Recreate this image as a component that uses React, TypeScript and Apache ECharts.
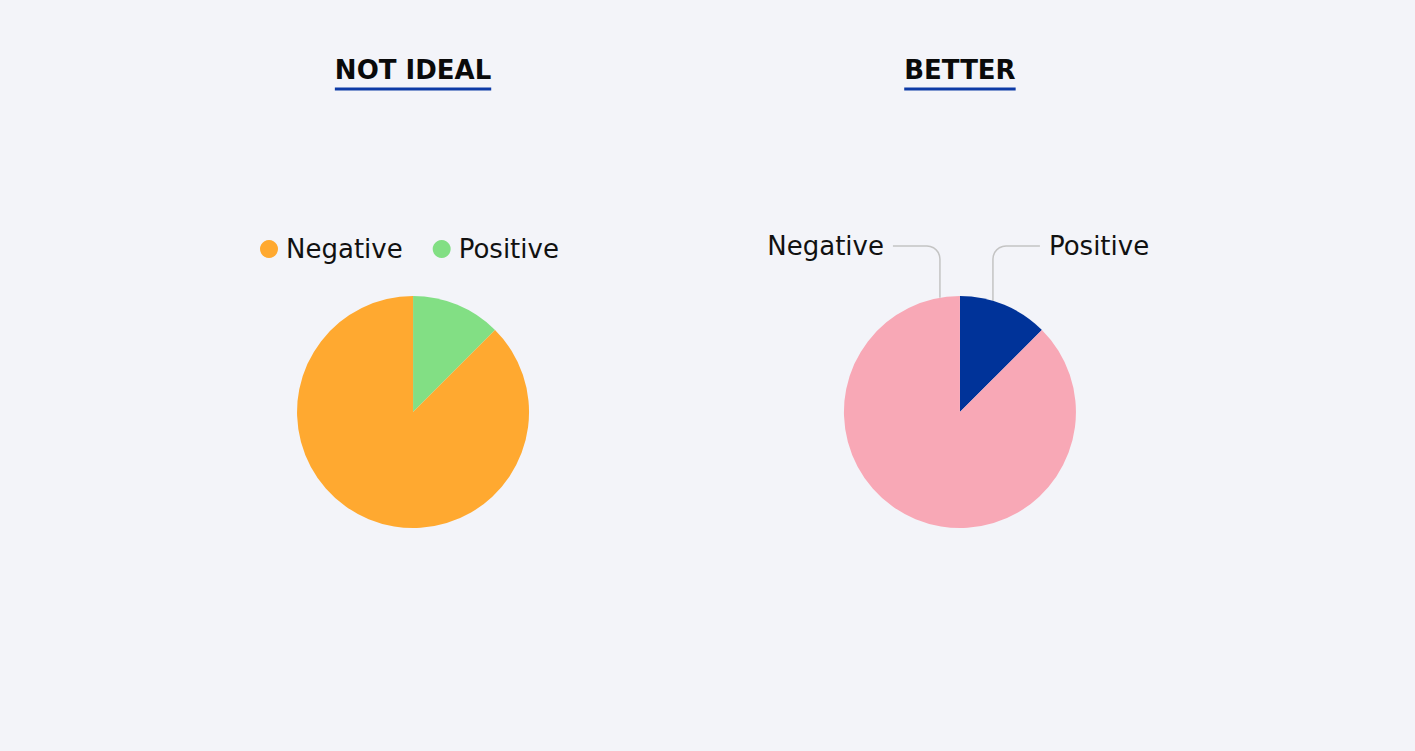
import { useEffect, useRef } from "react";
import * as echarts from "echarts";

const categories = ["Positive", "Negative"];
const notIdealValues = [12.5, 87.5];
const betterValues = [12.5, 87.5];
const legendOrder = ["Negative", "Positive"];
const chartTitles = ["NOT IDEAL", "BETTER"];
const notIdealColors = ["#82DF84", "#FFA930"];
const betterColors = ["#003399", "#F8A8B6"];

export default function App() {
  const ref = useRef<HTMLDivElement>(null);
  useEffect(() => {
    document.body.style.margin = "0";
    const el = ref.current!;
    const chart = echarts.init(el, null, { renderer: "svg" });
    const W = chart.getWidth();
    const H = chart.getHeight();
    const font = "DejaVu Sans";
    const centers = [
      [0.2919, 0.5486],
      [0.6784, 0.5486],
    ];
    const R = 116;
    const ctx = document.createElement("canvas").getContext("2d")!;
    const measure = (t: string, size: number, weight: string) => {
      ctx.font = `${weight} ${size}px "${font}"`;
      return ctx.measureText(t).width;
    };

    const graphics: any[] = [];
    chartTitles.forEach((t, i) => {
      const cx = W * centers[i][0];
      const w = measure(t, 26, "bold");
      graphics.push({
        type: "text",
        x: cx,
        y: 70,
        style: {
          text: t,
          fontSize: 26,
          fontWeight: "bold",
          fontFamily: font,
          fill: "#0a0a0a",
          align: "center",
          verticalAlign: "middle",
        },
      });
      graphics.push({
        type: "rect",
        shape: { x: cx - w / 2, y: 87.5, width: w, height: 3 },
        style: { fill: "#0D3AA6" },
      });
    });

    const arc = (x0: number, y0: number, rr: number, dir: number) => {
      const pts: number[][] = [];
      for (let k = 0; k <= 6; k++) {
        const phi = (Math.PI / 2) * (k / 6);
        pts.push([x0 + dir * rr * Math.sin(phi), y0 - rr * Math.cos(phi)]);
      }
      return pts;
    };

    const option: any = {
      animation: false,
      backgroundColor: "#F3F4F9",
      graphic: graphics,
      legend: {
        data: legendOrder,
        left: 255,
        top: 229,
        icon: "circle",
        itemWidth: 18,
        itemHeight: 18,
        itemGap: 30,
        selectedMode: false,
        textStyle: {
          fontSize: 26,
          fontFamily: font,
          color: "#111",
          lineHeight: 30,
          padding: [0, 0, 0, 3],
        },
      },
      series: [
        {
          type: "pie",
          center: [`${centers[0][0] * 100}%`, `${centers[0][1] * 100}%`],
          radius: R,
          startAngle: 90,
          clockwise: true,
          label: { show: false },
          labelLine: { show: false },
          emphasis: { disabled: true },
          data: categories.map((c, i) => ({
            name: c,
            value: notIdealValues[i],
            itemStyle: { color: notIdealColors[i] },
          })),
        },
        {
          type: "pie",
          center: [`${centers[1][0] * 100}%`, `${centers[1][1] * 100}%`],
          radius: R,
          startAngle: 90,
          clockwise: true,
          emphasis: { disabled: true },
          label: {
            show: true,
            position: "outside",
            formatter: "{b}",
            fontSize: 26,
            fontFamily: font,
            color: "#111",
          },
          labelLine: {
            show: true,
            smooth: false,
            lineStyle: { color: "#C4C4C4", width: 1.5 },
          },
          labelLayout: (p: any) => {
            const cx = W * centers[1][0];
            const cy = H * centers[1][1];
            const ly = cy - 166;
            const rr = 13;
            if (p.dataIndex === 0) {
              const vx = cx + 33;
              const hx = cx + 80;
              const pts = [[hx, ly], ...arc(vx + rr, ly + rr, rr, -1), [vx, cy - Math.sqrt(R * R - 33 * 33)]];
              return { x: cx + 89, y: ly, align: "left", verticalAlign: "middle", labelLinePoints: pts };
            }
            const vx = cx - 20;
            const hx = cx - 67;
            const pts = [[hx, ly], ...arc(vx - rr, ly + rr, rr, 1), [vx, cy - Math.sqrt(R * R - 20 * 20)]];
            return { x: cx - 76, y: ly, align: "right", verticalAlign: "middle", labelLinePoints: pts };
          },
          data: categories.map((c, i) => ({
            name: c,
            value: betterValues[i],
            itemStyle: { color: betterColors[i] },
          })),
        },
      ],
    };
    chart.setOption(option);
    return () => chart.dispose();
  }, []);
  return <div ref={ref} style={{ position: "fixed", left: 0, top: 0, width: "100%", height: "100%" }} />;
}
